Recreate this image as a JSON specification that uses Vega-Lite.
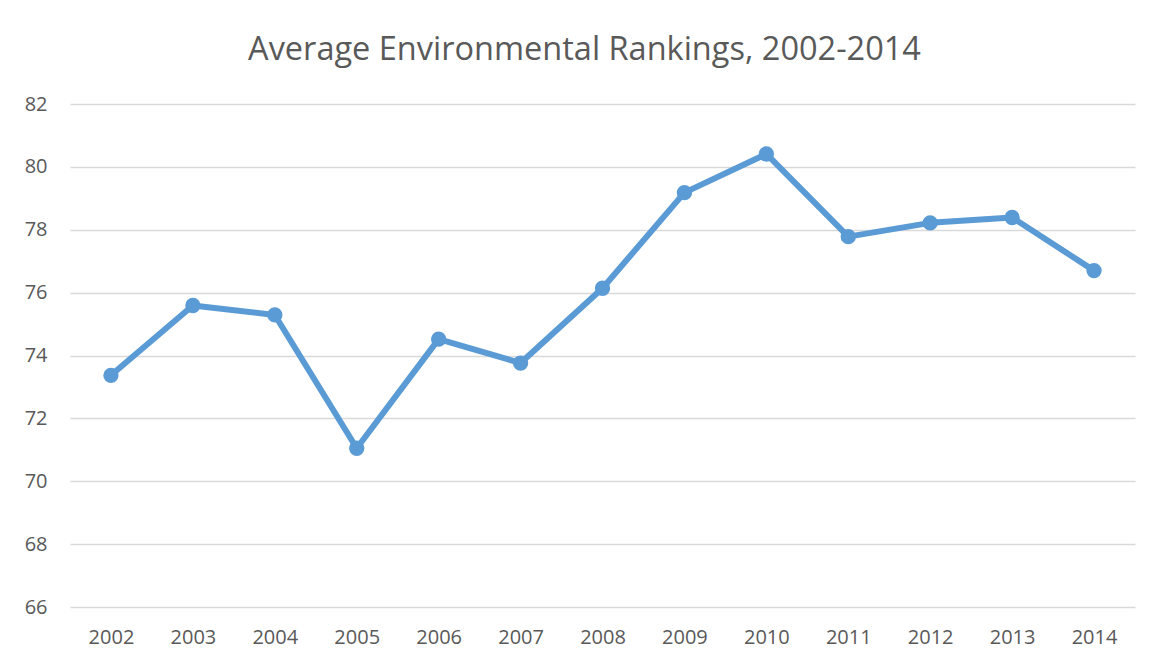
{
  "$schema": "https://vega.github.io/schema/vega-lite/v6.json",
  "autosize": "none",
  "padding": {"left": 70, "top": 104, "right": 23, "bottom": 60},
  "width": 1065,
  "height": 503,
  "background": "white",
  "title": {
    "text": "Average Environmental Rankings, 2002-2014",
    "font": "Open Sans",
    "fontSize": 32.5,
    "fontWeight": "normal",
    "color": "#595959",
    "anchor": "middle",
    "baseline": "alphabetic",
    "offset": 2,
    "dx": -18
  },
  "data": {
    "values": [
      {"year": "2002", "value": 73.37},
      {"year": "2003", "value": 75.59},
      {"year": "2004", "value": 75.29},
      {"year": "2005", "value": 71.05},
      {"year": "2006", "value": 74.52},
      {"year": "2007", "value": 73.76},
      {"year": "2008", "value": 76.14},
      {"year": "2009", "value": 79.18},
      {"year": "2010", "value": 80.41},
      {"year": "2011", "value": 77.78},
      {"year": "2012", "value": 78.22},
      {"year": "2013", "value": 78.39},
      {"year": "2014", "value": 76.70}
    ]
  },
  "mark": {
    "type": "line",
    "color": "#5B9BD5",
    "strokeWidth": 6,
    "strokeCap": "round",
    "strokeJoin": "round",
    "point": {"filled": true, "size": 235, "color": "#5B9BD5", "opacity": 1}
  },
  "encoding": {
    "x": {
      "field": "year",
      "type": "ordinal",
      "scale": {"type": "point", "padding": 0.5},
      "axis": {
        "title": null,
        "labelAngle": 0,
        "labelFont": "Open Sans",
        "labelFontSize": 20,
        "labelColor": "#595959",
        "labelPadding": 20,
        "domain": false,
        "ticks": false,
        "grid": false
      }
    },
    "y": {
      "field": "value",
      "type": "quantitative",
      "scale": {"domain": [66, 82], "zero": false, "nice": false},
      "axis": {
        "title": null,
        "values": [66, 68, 70, 72, 74, 76, 78, 80, 82],
        "labelFont": "Open Sans",
        "labelFontSize": 20,
        "labelColor": "#595959",
        "labelPadding": 23,
        "domain": false,
        "ticks": false,
        "grid": true,
        "gridColor": "#D9D9D9",
        "gridWidth": 1.5
      }
    }
  },
  "config": {
    "view": {"stroke": null}
  }
}
